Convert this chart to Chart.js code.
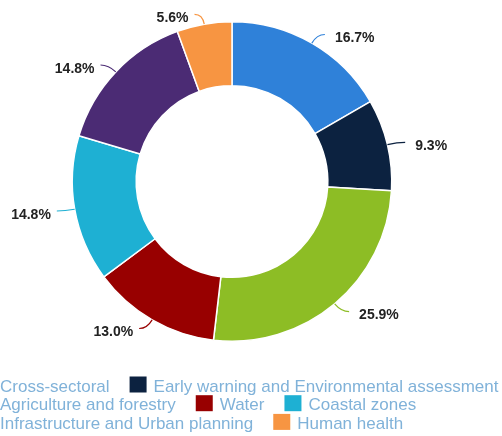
<!DOCTYPE html>
<html>
<head>
<meta charset="utf-8">
<script src="https://cdn.jsdelivr.net/npm/chart.js@4"></script>
<style>
  html, body { margin: 0; padding: 0; background: #fff; }
  #wrap { width: 502px; height: 436px; position: relative; }
</style>
</head>
<body>
<div id="wrap"><canvas id="sectorChart"></canvas></div>
<script>
// Projects per sector
const categories = [
    'Cross-sectoral',
    'Early warning and Environmental assessment',
    'Agriculture and forestry',
    'Water',
    'Coastal zones',
    'Infrastructure and Urban planning',
    'Human health'
];
const counts = [9, 5, 14, 7, 8, 8, 3];
const sliceColors = ['#2f81d9', '#0c2240', '#8dbd25', '#980000', '#1eb0d3', '#4b2b74', '#f79542'];

const total = counts.reduce((a, b) => a + b, 0);

// Percent labels outside the ring, with a short bent leader line
const outsideLabels = {
    id: 'outsideLabels',
    afterDatasetsDraw(chart) {
        const ctx = chart.ctx;
        const meta = chart.getDatasetMeta(0);
        ctx.save();
        ctx.font = 'bold 14px "Liberation Sans", Arial, sans-serif';
        ctx.textBaseline = 'middle';
        meta.data.forEach((arc, i) => {
            const mid = (arc.startAngle + arc.endAngle) / 2;
            const r = arc.outerRadius;
            const cos = Math.cos(mid), sin = Math.sin(mid);
            const right = cos >= 0;
            const x0 = arc.x + cos * r, y0 = arc.y + sin * r;
            const x1 = arc.x + cos * (r + 10), y1 = arc.y + sin * (r + 10);
            const x2 = x1 + (right ? 8 : -8);
            ctx.strokeStyle = sliceColors[i];
            ctx.lineWidth = 1.2;
            ctx.beginPath();
            ctx.moveTo(x0, y0);
            ctx.quadraticCurveTo(x1, y1, x2, y1);
            ctx.stroke();
            const pct = (counts[i] / total * 100).toFixed(1) + '%';
            ctx.fillStyle = '#222';
            ctx.textAlign = right ? 'left' : 'right';
            ctx.fillText(pct, right ? x2 + 10 : x2 - 6, y1 + 4);
        });
        ctx.restore();
    }
};

// Flowing legend under the ring
const flowLegend = {
    id: 'flowLegend',
    afterDraw(chart) {
        const ctx = chart.ctx;
        const box = 17, boxGap = 7, itemGap = 20, lineH = 18.7;
        const maxW = chart.width;
        ctx.save();
        ctx.font = '17px "Liberation Sans", Arial, sans-serif';
        ctx.textBaseline = 'alphabetic';
        ctx.textAlign = 'left';
        const startX = -(box + boxGap);
        let x = startX, baseline = 391.5;
        categories.forEach((name, i) => {
            const w = box + boxGap + ctx.measureText(name).width;
            if (x > startX && x + w > maxW) {
                x = startX;
                baseline += lineH;
            }
            ctx.fillStyle = sliceColors[i];
            ctx.fillRect(x, baseline - 15, box, 16);
            ctx.fillStyle = '#80b2d9';
            ctx.fillText(name, x + box + boxGap, baseline);
            x += w + itemGap;
        });
        ctx.restore();
    }
};

new Chart(document.getElementById('sectorChart'), {
    type: 'doughnut',
    data: {
        labels: categories,
        datasets: [{
            data: counts,
            backgroundColor: sliceColors,
            borderColor: '#ffffff',
            borderWidth: 1.5
        }]
    },
    options: {
        responsive: true,
        maintainAspectRatio: false,
        animation: false,
        cutout: '60%',
        layout: {
            padding: { left: 71, right: 109, top: 21, bottom: 94 }
        },
        plugins: {
            legend: { display: false },
            tooltip: { enabled: false }
        }
    },
    plugins: [outsideLabels, flowLegend]
});
</script>
</body>
</html>
